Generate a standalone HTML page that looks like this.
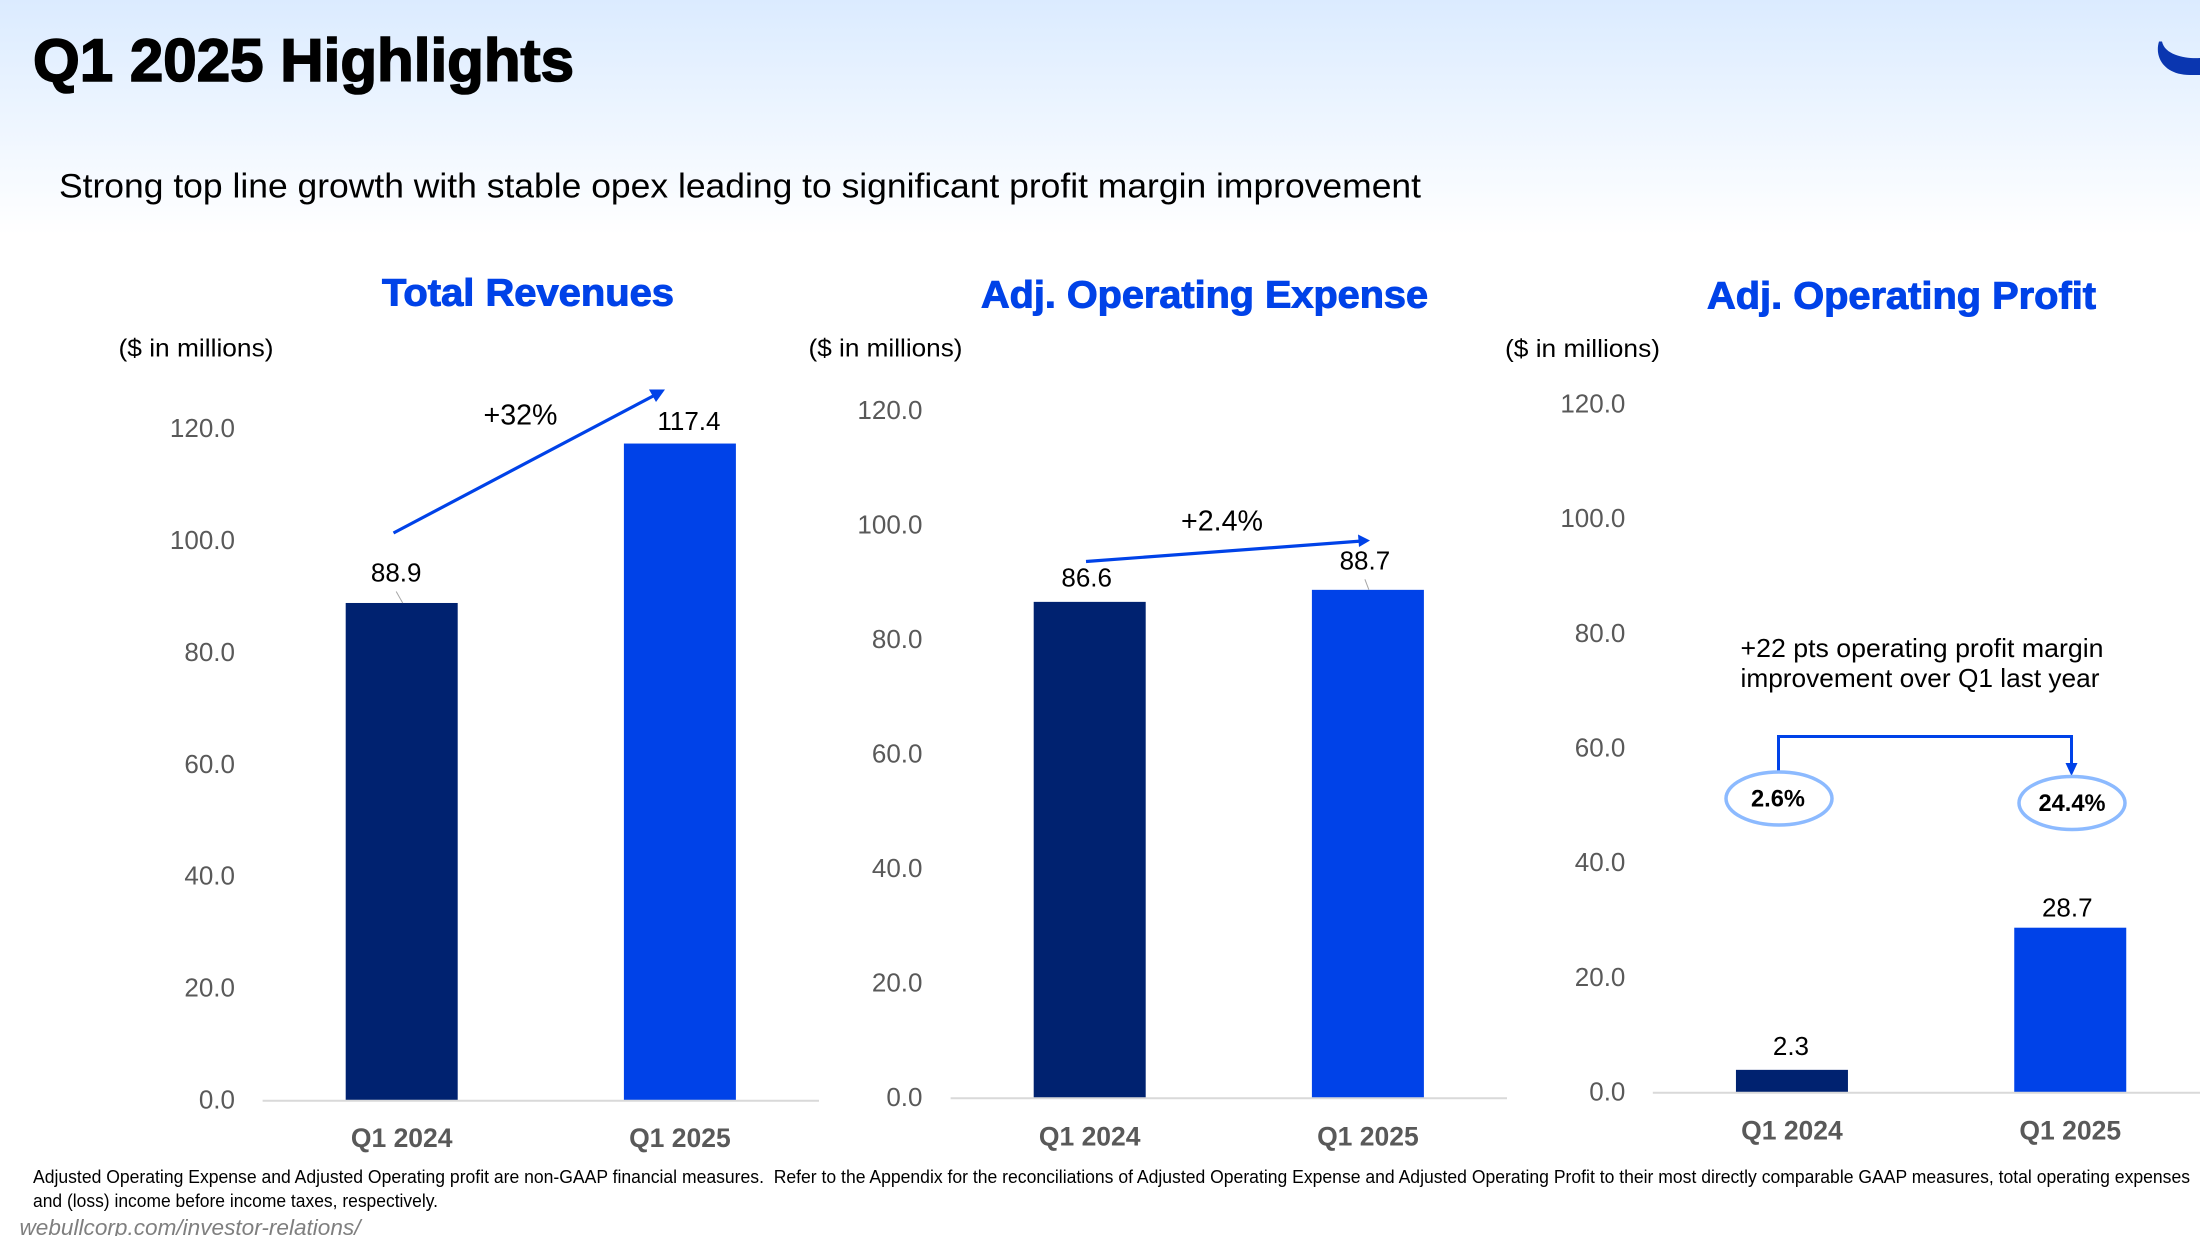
<!DOCTYPE html>
<html lang="en">
<head>
<meta charset="utf-8">
<title>Q1 2025 Highlights</title>
<style>
  html, body { margin: 0; padding: 0; background: #fff; }
  body { width: 2200px; height: 1236px; overflow: hidden; }
  svg { display: block; font-family: "Liberation Sans", "DejaVu Sans", sans-serif; }
  text { white-space: pre; }
</style>
</head>
<body>
<svg id="slide" xmlns="http://www.w3.org/2000/svg" width="2200" height="1236" viewBox="0 0 2200 1236">
  <defs>
    <linearGradient id="bg-grad" x1="0" y1="0" x2="0" y2="1">
      <stop offset="0" stop-color="#dbebff"/>
      <stop offset="1" stop-color="#ffffff"/>
    </linearGradient>
  </defs>
  <rect x="0" y="0" width="2200" height="235" fill="url(#bg-grad)"/>

  <text x="33" y="81" font-size="60" font-weight="700" fill="#000" stroke="#000" stroke-width="1.6" textLength="541" lengthAdjust="spacingAndGlyphs">Q1 2025 Highlights</text>
  <path d="M2159 41.5 C2154 58 2165 75 2190 75 L2200 75 L2200 58 C2188 59 2165 56 2162 41.5 Z" fill="#0a36b0"/>
  <text x="59" y="197.5" font-size="34" fill="#000" textLength="1362" lengthAdjust="spacingAndGlyphs">Strong top line growth with stable opex leading to significant profit margin improvement</text>

  <text x="382" y="305.5" font-size="38" font-weight="700" fill="#0042e8" stroke="#0042e8" stroke-width="1" textLength="292" lengthAdjust="spacingAndGlyphs">Total Revenues</text>
  <text x="981" y="307.5" font-size="38" font-weight="700" fill="#0042e8" stroke="#0042e8" stroke-width="1" textLength="447" lengthAdjust="spacingAndGlyphs">Adj. Operating Expense</text>
  <text x="1707" y="308.5" font-size="38" font-weight="700" fill="#0042e8" stroke="#0042e8" stroke-width="1" textLength="389" lengthAdjust="spacingAndGlyphs">Adj. Operating Profit</text>

  <text x="118.5" y="356.5" font-size="25" fill="#000" textLength="155" lengthAdjust="spacingAndGlyphs">($ in millions)</text>
  <text x="808.5" y="356.5" font-size="25" fill="#000" textLength="154" lengthAdjust="spacingAndGlyphs">($ in millions)</text>
  <text x="1505" y="357" font-size="25" fill="#000" textLength="155" lengthAdjust="spacingAndGlyphs">($ in millions)</text>

  <g id="charts"></g>

  <!-- Revenue growth annotation -->
  <line x1="393.5" y1="533" x2="657" y2="394" stroke="#0042e8" stroke-width="3.2"/>
  <polygon points="665,389.5 649,389.5 656,402" fill="#0042e8"/>
  <text x="483.5" y="424.5" font-size="29" fill="#000" textLength="74" lengthAdjust="spacingAndGlyphs">+32%</text>

  <!-- Expense growth annotation -->
  <line x1="1086" y1="561.5" x2="1362" y2="541" stroke="#0042e8" stroke-width="3.2"/>
  <polygon points="1370,540.5 1358,534.5 1359,547" fill="#0042e8"/>
  <text x="1181" y="530.5" font-size="29" fill="#000" textLength="82" lengthAdjust="spacingAndGlyphs">+2.4%</text>

  <!-- Margin annotation -->
  <text x="1740.5" y="657" font-size="26" fill="#000" textLength="363" lengthAdjust="spacingAndGlyphs">+22 pts operating profit margin</text>
  <text x="1740.5" y="687" font-size="26" fill="#000" textLength="359" lengthAdjust="spacingAndGlyphs">improvement over Q1 last year</text>
  <path d="M1778.5 772 V736.5 H2071.5 V766" fill="none" stroke="#0042e8" stroke-width="3"/>
  <polygon points="2071.5,776 2065.5,763 2077.5,763" fill="#0042e8"/>
  <ellipse cx="1779" cy="798.5" rx="53" ry="26.5" fill="#fff" stroke="#8cbaff" stroke-width="3.5"/>
  <ellipse cx="2072" cy="803" rx="53" ry="26.5" fill="#fff" stroke="#8cbaff" stroke-width="3.5"/>
  <text x="1751" y="806.5" font-size="24" font-weight="700" fill="#000" textLength="54" lengthAdjust="spacingAndGlyphs">2.6%</text>
  <text x="2038.5" y="811" font-size="24" font-weight="700" fill="#000" textLength="67" lengthAdjust="spacingAndGlyphs">24.4%</text>

  <!-- Footnotes -->
  <text x="33" y="1183" font-size="18" fill="#000" textLength="2157" lengthAdjust="spacingAndGlyphs">Adjusted Operating Expense and Adjusted Operating profit are non-GAAP financial measures.  Refer to the Appendix for the reconciliations of Adjusted Operating Expense and Adjusted Operating Profit to their most directly comparable GAAP measures, total operating expenses</text>
  <text x="33" y="1207" font-size="18" fill="#000" textLength="405" lengthAdjust="spacingAndGlyphs">and (loss) income before income taxes, respectively.</text>
  <text x="19.5" y="1235" font-size="22" font-style="italic" fill="#7f7f7f" textLength="341" lengthAdjust="spacingAndGlyphs">webullcorp.com/investor-relations/</text>
</svg>

<script>
const categories = ["Q1 2024", "Q1 2025"];
const yTickValues = [0, 20, 40, 60, 80, 100, 120];
const yTickLabels = ["0.0", "20.0", "40.0", "60.0", "80.0", "100.0", "120.0"];
const revenueValues = [88.9, 117.4];
const revenueLabels = ["88.9", "117.4"];
const expenseValues = [86.6, 88.7];
const expenseLabels = ["86.6", "88.7"];
const profitValues = [3.9, 28.7];
const profitLabels = ["2.3", "28.7"];

const NS = "http://www.w3.org/2000/svg";
const chartsLayer = document.getElementById("charts");
const barColors = ["#002270", "#0042e8"];

function makeXScale(left, right) {
  const band = (right - left) / categories.length;
  return function (i) { return left + (i + 0.5) * band; };
}
function makeYScale(baseline, top, maxValue) {
  return function (v) { return baseline - (v / maxValue) * (baseline - top); };
}
function make(tag, attrs, content) {
  const el = document.createElementNS(NS, tag);
  Object.keys(attrs).forEach(function (k) { el.setAttribute(k, attrs[k]); });
  if (content !== undefined) el.textContent = content;
  return el;
}

function drawPanel(key, values, labels, cfg) {
  const x = makeXScale(cfg.left, cfg.right);
  const y = makeYScale(cfg.baseline, cfg.top, 120);

  const group = make("g", {});
  
  
  chartsLayer.appendChild(group);

  yTickValues.forEach(function (tick, i) {
    const label = make("text", { x: cfg.tickRight, y: y(tick) + 8.2, "font-size": 26, fill: "#595959", "text-anchor": "end" }, yTickLabels[i]);
    
    
    group.appendChild(label);
  });

  values.forEach(function (value, i) {
    const cx = x(i);
    const top = y(value);
    const bar = make("rect", { x: cx - 56, y: top, width: 112, height: cfg.baseline - top, fill: barColors[i] });
    
    
    group.appendChild(bar);

    const nudge = cfg.labelNudge[i];
    const valueLabel = make("text", { x: cx + nudge.dx, y: top - nudge.gap, "font-size": 26, fill: "#000", "text-anchor": "middle" }, labels[i]);
    
    
    group.appendChild(valueLabel);

    if (nudge.leader) {
      const leader = make("line", { x1: cx + nudge.dx, y1: top - nudge.gap + 10, x2: cx + 1, y2: top, stroke: "#a6a6a6", "stroke-width": 1 });
      
      
      group.appendChild(leader);
    }

    const catLabel = make("text", { x: cx, y: cfg.catBaseline, "font-size": 26.5, "font-weight": 700, fill: "#595959", "text-anchor": "middle" }, categories[i]);
    
    
    group.appendChild(catLabel);
  });

  const axis = make("line", { x1: cfg.left, x2: cfg.right, y1: cfg.baseline + 0.5, y2: cfg.baseline + 0.5, stroke: "#d9d9d9", "stroke-width": 2 });
  
  
  group.appendChild(axis);
}

drawPanel("revenue", revenueValues, revenueLabels, {
  left: 262.6, right: 819, baseline: 1100.3, top: 429, tickRight: 235, catBaseline: 1147,
  labelNudge: [{ dx: -5.5, gap: 21.5, leader: true }, { dx: 9, gap: 13.5, leader: false }]
});
drawPanel("expense", expenseValues, expenseLabels, {
  left: 950.6, right: 1507, baseline: 1097.8, top: 410.6, tickRight: 922.5, catBaseline: 1145.5,
  labelNudge: [{ dx: -3, gap: 15.5, leader: false }, { dx: -3, gap: 20.5, leader: true }]
});
drawPanel("profit", profitValues, profitLabels, {
  left: 1652.8, right: 2209.4, baseline: 1092.2, top: 404.4, tickRight: 1625.4, catBaseline: 1139.5,
  labelNudge: [{ dx: -1, gap: 15, leader: false }, { dx: -3, gap: 11, leader: false }]
});
</script>
</body>
</html>
